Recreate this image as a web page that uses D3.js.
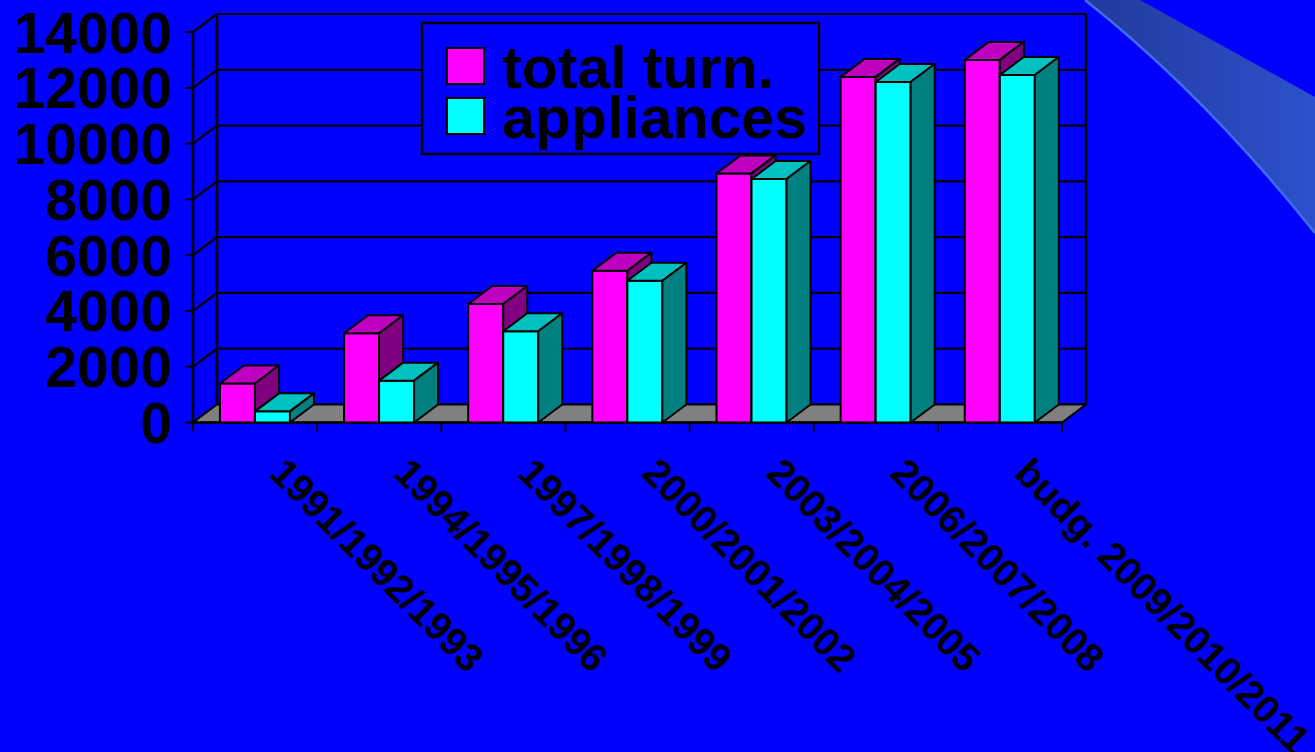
<!DOCTYPE html>
<html>
<head>
<meta charset="utf-8">
<script src="https://cdn.jsdelivr.net/npm/d3@7"></script>
<style>
html,body{margin:0;padding:0;background:#0000FF;overflow:hidden;}
svg{display:block;}
</style>
</head>
<body>
<svg id="chart" width="1315" height="752"></svg>
<script>
const categories = ["1991/1992/1993","1994/1995/1996","1997/1998/1999","2000/2001/2002","2003/2004/2005","2006/2007/2008","budg. 2009/2010/2011"];
const seriesNames = ["total turn.","appliances"];
const totalTurn = [1400, 3200, 4250, 5440, 8930, 12390, 13000];
const appliances = [400, 1500, 3270, 5080, 8730, 12210, 12460];
const yTicks = [0, 2000, 4000, 6000, 8000, 10000, 12000, 14000];

const frontColors = ["#FF00FF", "#00FFFF"];
const topColors = ["#C000C0", "#00C0C0"];
const sideColors = ["#800080", "#008080"];

const svg = d3.select("#chart");
const DX = 24, DY = -18;
const font = "'Liberation Sans', Arial, Helvetica, sans-serif";

// background decoration
const defs = svg.append("defs");
const g1 = defs.append("linearGradient").attr("id","wedge").attr("x1","0").attr("y1","0").attr("x2","1").attr("y2","0");
g1.append("stop").attr("offset","0").attr("stop-color","#213a9c");
g1.append("stop").attr("offset","1").attr("stop-color","#2d50cc");
svg.append("path")
  .attr("d", "M1085,0 L1140,0 L1315,97 L1315,233 Q1205,95 1085,0 Z")
  .attr("fill","url(#wedge)");
svg.append("path")
  .attr("d", "M1085,0 Q1205,95 1315,233")
  .attr("fill","none").attr("stroke","#3f6cf5").attr("stroke-width",2.5);

const x = d3.scaleBand().domain(categories).range([193, 1062]).paddingInner(0).paddingOuter(0);
const y = d3.scaleLinear().domain([0, 14000]).range([422.5, 32]);
const bw = x.bandwidth();
const xs = d3.scaleBand().domain(seriesNames).range([bw*0.217, bw*0.217 + 70]);

const chart = svg.append("g");
const y0 = y(0), yTop = y(14000);
const xL = x.range()[0], xR = x.range()[1];

// back wall gridlines
chart.selectAll("line.grid").data(yTicks).join("line")
  .attr("x1", xL + DX).attr("x2", xR + DX)
  .attr("y1", d => y(d) + DY).attr("y2", d => y(d) + DY)
  .attr("stroke","#000").attr("stroke-width",2.2);
// left side wall diagonals
chart.selectAll("line.diag").data(yTicks).join("line")
  .attr("x1", xL).attr("x2", xL + DX)
  .attr("y1", d => y(d)).attr("y2", d => y(d) + DY)
  .attr("stroke","#000").attr("stroke-width",2.2);
// back wall verticals
chart.append("line").attr("x1", xL+DX).attr("x2", xL+DX).attr("y1", y0+DY).attr("y2", yTop+DY).attr("stroke","#000").attr("stroke-width",2.5);
chart.append("line").attr("x1", xR+DX).attr("x2", xR+DX).attr("y1", y0+DY).attr("y2", yTop+DY).attr("stroke","#000").attr("stroke-width",2.5);
// floor
chart.append("path")
  .attr("d", `M${xL},${y0} L${xR},${y0} L${xR+DX},${y0+DY} L${xL+DX},${y0+DY} Z`)
  .attr("fill","#808080").attr("stroke","#000").attr("stroke-width",2).attr("stroke-linejoin","round");
// front value axis
chart.append("line").attr("x1", xL).attr("x2", xL).attr("y1", y0).attr("y2", yTop).attr("stroke","#000").attr("stroke-width",2.5);
chart.selectAll("line.ytick").data(yTicks).join("line")
  .attr("x1", xL - 8).attr("x2", xL)
  .attr("y1", d => y(d)).attr("y2", d => y(d))
  .attr("stroke","#000").attr("stroke-width",2);
// category axis
chart.append("line").attr("x1", xL).attr("x2", xR).attr("y1", y0).attr("y2", y0).attr("stroke","#000").attr("stroke-width",2.5);
const bounds = categories.map(c => x(c)).concat([xR]);
chart.selectAll("line.xtick").data(bounds).join("line")
  .attr("x1", d => d).attr("x2", d => d)
  .attr("y1", y0).attr("y2", y0 + 9)
  .attr("stroke","#000").attr("stroke-width",2);

// bars
const data = [];
categories.forEach((c, i) => {
  [totalTurn[i], appliances[i]].forEach((v, s) => data.push({c, s, v}));
});
const bars = chart.selectAll("g.bar").data(data).join("g").attr("class","bar");
bars.each(function(d) {
  const g = d3.select(this);
  const x0 = x(d.c) + xs(seriesNames[d.s]);
  const x1 = x0 + xs.bandwidth();
  const yt = y(d.v);
  g.append("path").attr("d", `M${x0},${y0} L${x0},${yt} L${x1},${yt} L${x1},${y0} Z`)
    .attr("fill", frontColors[d.s]).attr("stroke","#000").attr("stroke-width",2).attr("stroke-linejoin","round");
  g.append("path").attr("d", `M${x0},${yt} L${x0+DX},${yt+DY} L${x1+DX},${yt+DY} L${x1},${yt} Z`)
    .attr("fill", topColors[d.s]).attr("stroke","#000").attr("stroke-width",2).attr("stroke-linejoin","round");
  g.append("path").attr("d", `M${x1},${yt} L${x1+DX},${yt+DY} L${x1+DX},${y0+DY} L${x1},${y0} Z`)
    .attr("fill", sideColors[d.s]).attr("stroke","#000").attr("stroke-width",2).attr("stroke-linejoin","round");
});

// y labels
chart.selectAll("text.ylab").data(yTicks).join("text")
  .attr("x", 172).attr("y", d => y(d) + 20.5)
  .attr("text-anchor","end")
  .attr("font-family", font).attr("font-weight","bold").attr("font-size", 57)
  .attr("fill","#000").text(d => d);

// x labels
chart.selectAll("text.xlab").data(categories).join("text")
  .attr("transform", d => `translate(${x(d) + bw/2 + 13},${475}) rotate(45)`)
  .attr("text-anchor","start")
  .attr("font-family", font).attr("font-weight","bold").attr("font-size", 39)
  .attr("fill","#000").text(d => d);

// legend
const leg = svg.append("g");
leg.append("rect").attr("x", 422).attr("y", 23).attr("width", 397).attr("height", 131)
  .attr("fill","#0000FF").attr("stroke","#000").attr("stroke-width",2.5);
const ly = d3.scalePoint().domain(seriesNames).range([48, 98]);
leg.selectAll("rect.sw").data(seriesNames).join("rect")
  .attr("x", 447).attr("y", d => ly(d)).attr("width", 37).attr("height", 36)
  .attr("fill", (d,i) => frontColors[i]).attr("stroke","#000").attr("stroke-width",2);
leg.selectAll("text.lt").data(seriesNames).join("text")
  .attr("x", 502).attr("y", d => ly(d) + 40)
  .attr("font-family", font).attr("font-weight","bold").attr("font-size", 59)
  .attr("fill","#000").text(d => d);
</script>
</body>
</html>
